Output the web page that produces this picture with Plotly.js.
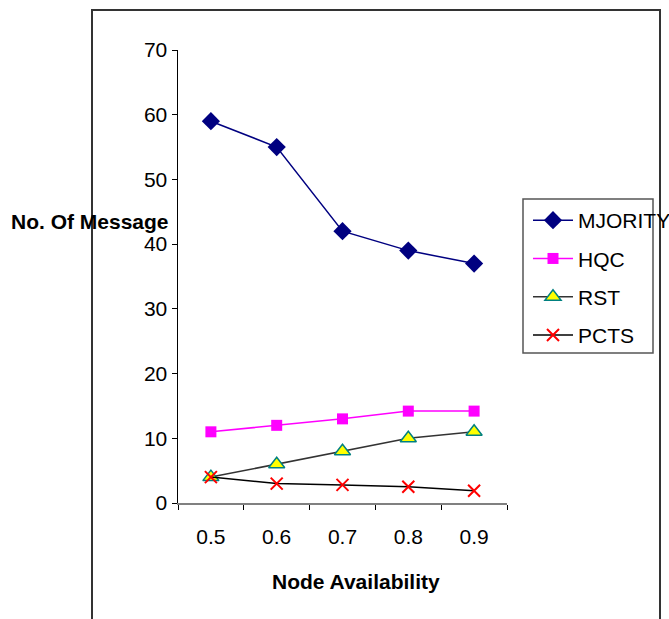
<!DOCTYPE html>
<html>
<head>
<meta charset="utf-8">
<script src="https://cdn.plot.ly/plotly-3.0.1.min.js"></script>
<style>html,body{margin:0;padding:0;background:#fff;}#chart{width:669px;height:619px;}</style>
</head>
<body>
<div id="chart"></div>
<script>
const categories = ["0.5", "0.6", "0.7", "0.8", "0.9"];
const mjority = [59, 55, 42, 39, 37];
const hqc = [11, 12, 13, 14.2, 14.2];
const rst = [4, 6, 8, 10, 11];
const pcts = [4, 3, 2.8, 2.5, 1.9];
const yTicks = [0, 10, 20, 30, 40, 50, 60, 70];

const L = 178, R = 507, T = 50, B = 503, W = 669, H = 619;
const pw = R - L, ph = B - T;
const px = v => (v - L) / pw;
const py = v => (B - v) / ph;

const traces = [
  {name: "MJORITY", x: categories, y: mjority, mode: "lines+markers", legendgroup: "a",
   line: {color: "#000080", width: 1.5}, marker: {symbol: "diamond", size: 14, color: "#000080"}},
  {name: "HQC", x: categories, y: hqc, mode: "lines+markers", legendgroup: "b",
   line: {color: "#ff00ff", width: 1.5}, marker: {symbol: "square", size: 11, color: "#ff00ff"}},
  {name: "RST", x: categories, y: rst, mode: "lines+markers", legendgroup: "c",
   line: {color: "#333333", width: 1.5}, marker: {symbol: "triangle-up", size: 14, color: "#ffff00", line: {color: "#008080", width: 1.5}}},
  {name: "PCTS", x: categories, y: pcts, mode: "lines+markers", legendgroup: "d",
   line: {color: "#000000", width: 1.5}, marker: {symbol: "x-thin", size: 12, color: "#ff0000", line: {color: "#ff0000", width: 2}}}
];

const layout = {
  width: W, height: H,
  margin: {l: L, r: W - R, t: T, b: H - B, autoexpand: false},
  paper_bgcolor: "#ffffff", plot_bgcolor: "#ffffff",
  font: {family: "Liberation Sans, Arial, sans-serif", size: 21, color: "#000"},
  showlegend: true,
  legend: {x: px(528), y: py(200), xanchor: "left", yanchor: "top", bgcolor: "rgba(0,0,0,0)",
    borderwidth: 0, font: {size: 21, color: "#000"}, traceorder: "grouped", tracegroupgap: 8, itemwidth: 40},
  xaxis: {type: "category", range: [-0.5, 4.5], showgrid: false, zeroline: false,
    showline: true, linecolor: "#808080", linewidth: 1.5, ticks: "outside", tickson: "boundaries",
    ticklen: 5, tickcolor: "#000", tickfont: {size: 21}, ticklabelstandoff: 14, fixedrange: true},
  yaxis: {range: [0, 70], tickvals: yTicks, showgrid: false, zeroline: false,
    showline: true, linecolor: "#000", linewidth: 1.5, ticks: "outside", ticklen: 5, tickcolor: "#000",
    tickfont: {size: 21}, fixedrange: true},
  annotations: [
    {text: "<b>No. Of Message</b>", xref: "paper", yref: "paper", x: px(9), y: py(221),
     xanchor: "left", yanchor: "middle", showarrow: false, font: {size: 21, color: "#000"}},
    {text: "<b>Node Availability</b>", xref: "paper", yref: "paper", x: px(356), y: py(581),
     xanchor: "center", yanchor: "middle", showarrow: false, font: {size: 21, color: "#000"}}
  ],
  shapes: [
    {type: "rect", xref: "paper", yref: "paper", x0: px(92), x1: px(660), y0: py(630), y1: py(10),
     line: {color: "#333333", width: 2}, fillcolor: "rgba(0,0,0,0)", layer: "below"},
    {type: "rect", xref: "paper", yref: "paper", x0: px(523), x1: px(653), y0: py(353), y1: py(199),
     line: {color: "#555555", width: 1.5}, fillcolor: "rgba(0,0,0,0)", layer: "below"}
  ]
};

Plotly.newPlot("chart", traces, layout, {displayModeBar: false, staticPlot: true});
</script>
</body>
</html>
